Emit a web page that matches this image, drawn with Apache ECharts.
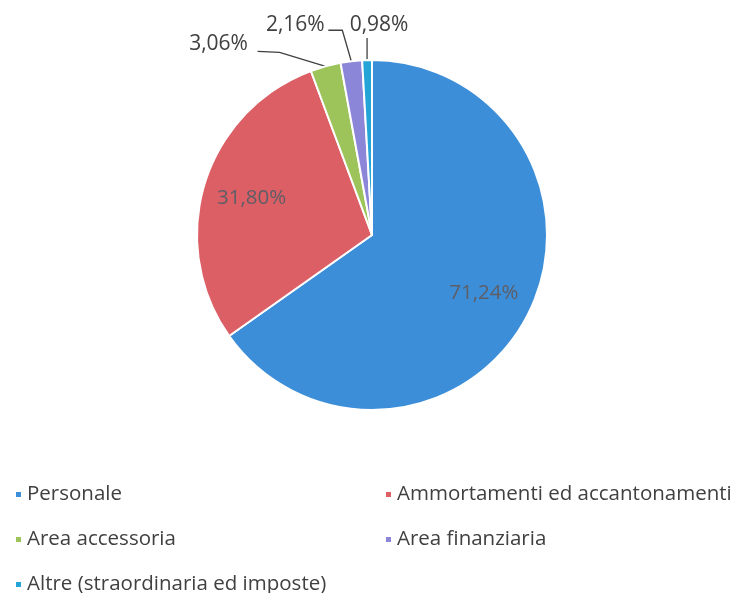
<!DOCTYPE html>
<html>
<head>
<meta charset="utf-8">
<script src="https://cdn.jsdelivr.net/npm/echarts@6/dist/echarts.min.js"></script>
<style>
  html, body { margin: 0; padding: 0; background: #fff; }
  #chart { width: 742px; height: 593px; }
</style>
</head>
<body>
<div id="chart"></div>
<script>
const names = [
  'Personale',
  'Ammortamenti ed accantonamenti',
  'Area accessoria',
  'Area finanziaria',
  'Altre (straordinaria ed imposte)'
]
const values = [71.24, 31.80, 3.06, 2.16, 0.98]
const colors = ['#3d8ed8', '#dc5f66', '#9cc45a', '#8c86d8', '#25a4d8']

// layout of the pie (pixels)
const CX = 372, CY = 235, R = 175
const FONT = '"Open Sans", "Noto Sans", sans-serif'

// label placement for the small slices, relative to the slice edge
const outerLabels = {
  2: { label: [-107, -22], line: [[-46, -14], [-68, -15]] },
  3: { label: [-56, -36], line: [[-9, -31], [-23, -31]] },
  4: { label: [12, -35], line: [[0, -11], [0, -22]] }
}

// legend grid: two columns, three rows
const legendPos = [[14, 484], [384, 484], [14, 529], [384, 529], [14, 574]]

const total = values.reduce((a, b) => a + b, 0)
function midAngle(i) {
  let s = 0
  for (let k = 0; k < i; k++) s += values[k]
  return (s + values[i] / 2) / total * Math.PI * 2
}
function polar(a, r) {
  return [CX + r * Math.sin(a), CY - r * Math.cos(a)]
}
function fmt(v) {
  return v.toFixed(2).replace('.', ',') + '%'
}

const chart = echarts.init(document.getElementById('chart'))

const legends = names.map((n, i) => ({
  left: legendPos[i][0],
  top: legendPos[i][1],
  padding: 0,
  itemWidth: 7,
  itemHeight: 7,
  icon: 'rect',
  textStyle: { fontSize: 20.5, color: '#404040', fontFamily: FONT },
  data: [n]
}))

chart.setOption({
  animation: false,
  color: colors,
  legend: legends,
  series: [
    {
      type: 'pie',
      center: [CX, CY],
      radius: R,
      startAngle: 90,
      clockwise: true,
      avoidLabelOverlap: false,
      itemStyle: { borderColor: '#fff', borderWidth: 2 },
      label: {
        show: true,
        position: 'outside',
        formatter: p => fmt(p.value),
        fontSize: 21,
        fontFamily: FONT,
        color: '#404040'
      },
      labelLine: {
        show: true,
        lineStyle: { color: '#404040', width: 1.3 }
      },
      labelLayout: function (p) {
        const i = p.dataIndex
        const a = midAngle(i)
        const o = outerLabels[i]
        if (!o) {
          const c = polar(a, R * 0.72)
          return { x: c[0], y: c[1], align: 'center', verticalAlign: 'middle' }
        }
        const e = polar(a, R)
        return {
          x: e[0] + o.label[0],
          y: e[1] + o.label[1],
          align: 'center',
          verticalAlign: 'middle',
          labelLinePoints: [
            e,
            [e[0] + o.line[0][0], e[1] + o.line[0][1]],
            [e[0] + o.line[1][0], e[1] + o.line[1][1]]
          ]
        }
      },
      data: names.map((n, i) => ({
        name: n,
        value: values[i],
        label: i < 2 ? { color: '#5e5e66', fontSize: 20.5 } : undefined,
        labelLine: i < 2 ? { show: false } : undefined
      }))
    }
  ]
})
</script>
</body>
</html>
